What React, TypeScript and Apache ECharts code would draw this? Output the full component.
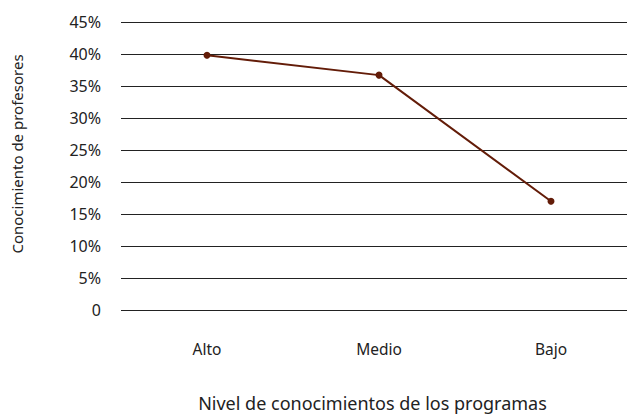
import React, { useEffect, useRef } from "react";
import * as echarts from "echarts";

const categories = ["Alto", "Medio", "Bajo"];
const values = [39.8, 36.7, 17.0];
const yTicks = [0, 5, 10, 15, 20, 25, 30, 35, 40, 45];
const xTitle = "Nivel de conocimientos de los programas";
const yTitle = "Conocimiento de profesores";

const FONT = "'Noto Sans', 'Open Sans', sans-serif";

export default function App() {
  const ref = useRef<HTMLDivElement>(null);
  useEffect(() => {
    if (!ref.current) return;
    const chart = echarts.init(ref.current, null, { renderer: "svg" });
    chart.setOption({
      animation: false,
      backgroundColor: "#ffffff",
      grid: {
        left: 121,
        right: -10,
        top: 22,
        bottom: 105,
        containLabel: false,
        outerBoundsMode: "none",
      },
      xAxis: {
        type: "category",
        data: categories,
        boundaryGap: true,
        name: xTitle,
        nameLocation: "middle",
        nameGap: 84,
        nameTextStyle: { fontFamily: FONT, fontSize: 18, color: "#222", padding: [0, 13, 0, 0] },
        axisLine: { show: false },
        axisTick: { show: false },
        axisLabel: { fontFamily: FONT, fontSize: 15.5, color: "#222", margin: 31 },
        splitLine: { show: false },
      },
      yAxis: {
        type: "value",
        min: yTicks[0],
        max: yTicks[yTicks.length - 1],
        interval: 5,
        axisLine: { show: false },
        axisTick: { show: false },
        axisLabel: {
          fontFamily: FONT,
          fontSize: 16,
          color: "#222",
          margin: 20,
          formatter: (v: number) => (v === 0 ? "0" : v + "%"),
        },
        splitLine: { show: true, lineStyle: { color: "#222", width: 1 } },
      },
      graphic: [
        {
          type: "text",
          x: 17,
          y: 154,
          rotation: Math.PI / 2,
          style: {
            text: yTitle,
            fontFamily: FONT,
            fontSize: 15,
            fill: "#222",
            textAlign: "center",
            textVerticalAlign: "middle",
          },
        },
      ],
      series: [
        {
          type: "line",
          data: values,
          symbol: "circle",
          symbolSize: 7,
          lineStyle: { color: "#631c08", width: 2 },
          itemStyle: { color: "#631c08" },
        },
      ],
    });
    return () => chart.dispose();
  }, []);
  return (
    <div
      ref={ref}
      style={{ position: "absolute", left: 0, top: 0, width: 627, height: 415 }}
    />
  );
}
